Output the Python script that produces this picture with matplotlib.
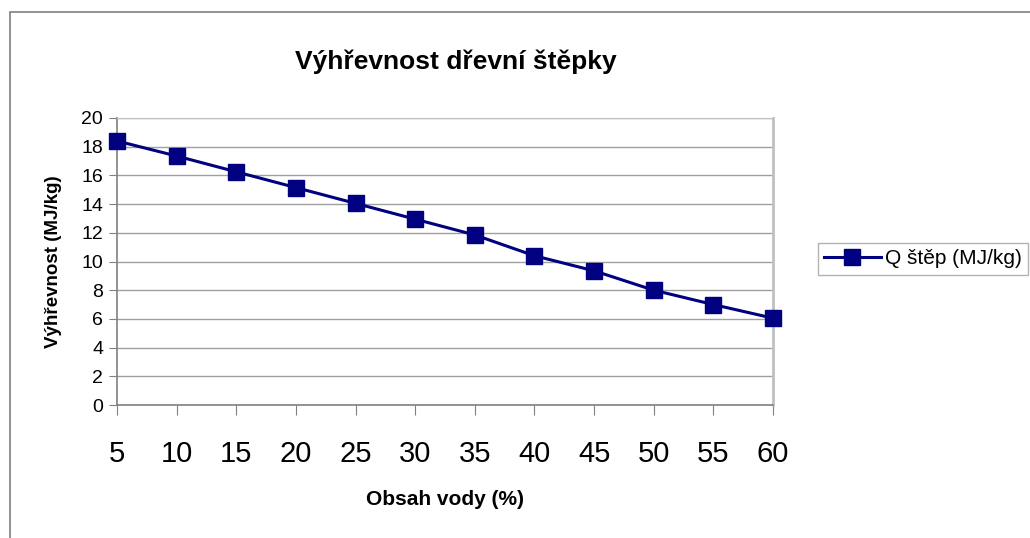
import matplotlib.pyplot as plt
from matplotlib.patches import Rectangle

plt.rcParams['font.family'] = ['Liberation Sans', 'DejaVu Sans']

obsah_vody = [5, 10, 15, 20, 25, 30, 35, 40, 45, 50, 55, 60]
q_step = [18.4, 17.35, 16.25, 15.15, 14.05, 12.95, 11.85, 10.4, 9.35, 8.0, 7.0, 6.05]
y_ticks = list(range(0, 21, 2))

fig = plt.figure(figsize=(10.3, 5.38), dpi=100)
ax = fig.add_axes([117 / 1030, 133 / 538, 656 / 1030, 287 / 538])

# outer chart border (cut off at right/bottom like the source)
fig.patches.append(Rectangle((10 / 1030, -0.1), 1.2, 1 - 12 / 538 + 0.1,
                             transform=fig.transFigure, fill=False,
                             edgecolor='#808080', linewidth=1.2))

ax.plot(obsah_vody, q_step, color='#000080', linewidth=2.2, marker='s',
        markersize=11, label='Q štěp (MJ/kg)', clip_on=False, zorder=3)

ax.set_xlim(5, 60)
ax.set_ylim(0, 20)
ax.set_xticks(obsah_vody)
ax.set_yticks(y_ticks)
ax.grid(axis='y', color='#a0a0a0', linewidth=1)
ax.set_axisbelow(True)

for side in ['left', 'bottom']:
    ax.spines[side].set_color('#808080')
    ax.spines[side].set_linewidth(1.2)
ax.spines['top'].set_color('#c0c0c0')
ax.spines['right'].set_color('#c0c0c0')
ax.spines['right'].set_linewidth(2)

ax.tick_params(axis='x', labelsize=21, length=7, color='#808080', pad=18)
ax.tick_params(axis='y', labelsize=14, length=6, color='#808080', pad=4)

ax.set_xlabel('Obsah vody (%)', fontsize=15, fontweight='bold', labelpad=16)
ax.set_ylabel('Výhřevnost (MJ/kg)', fontsize=13.5, fontweight='bold', labelpad=14)

fig.text(456 / 1030, 1 - 62 / 538, 'Výhřevnost dřevní štěpky', fontsize=19,
         fontweight='bold', ha='center', va='center')

leg = fig.legend(loc='upper left', bbox_to_anchor=(818 / 1030, 1 - 243 / 538),
                 fontsize=15, frameon=True, fancybox=False, handlelength=2.7,
                 borderpad=0.3, handletextpad=0.2, borderaxespad=0)
leg.get_frame().set_edgecolor('#a0a0a0')
leg.get_frame().set_linewidth(1)

fig.savefig('out.png', dpi=100)
